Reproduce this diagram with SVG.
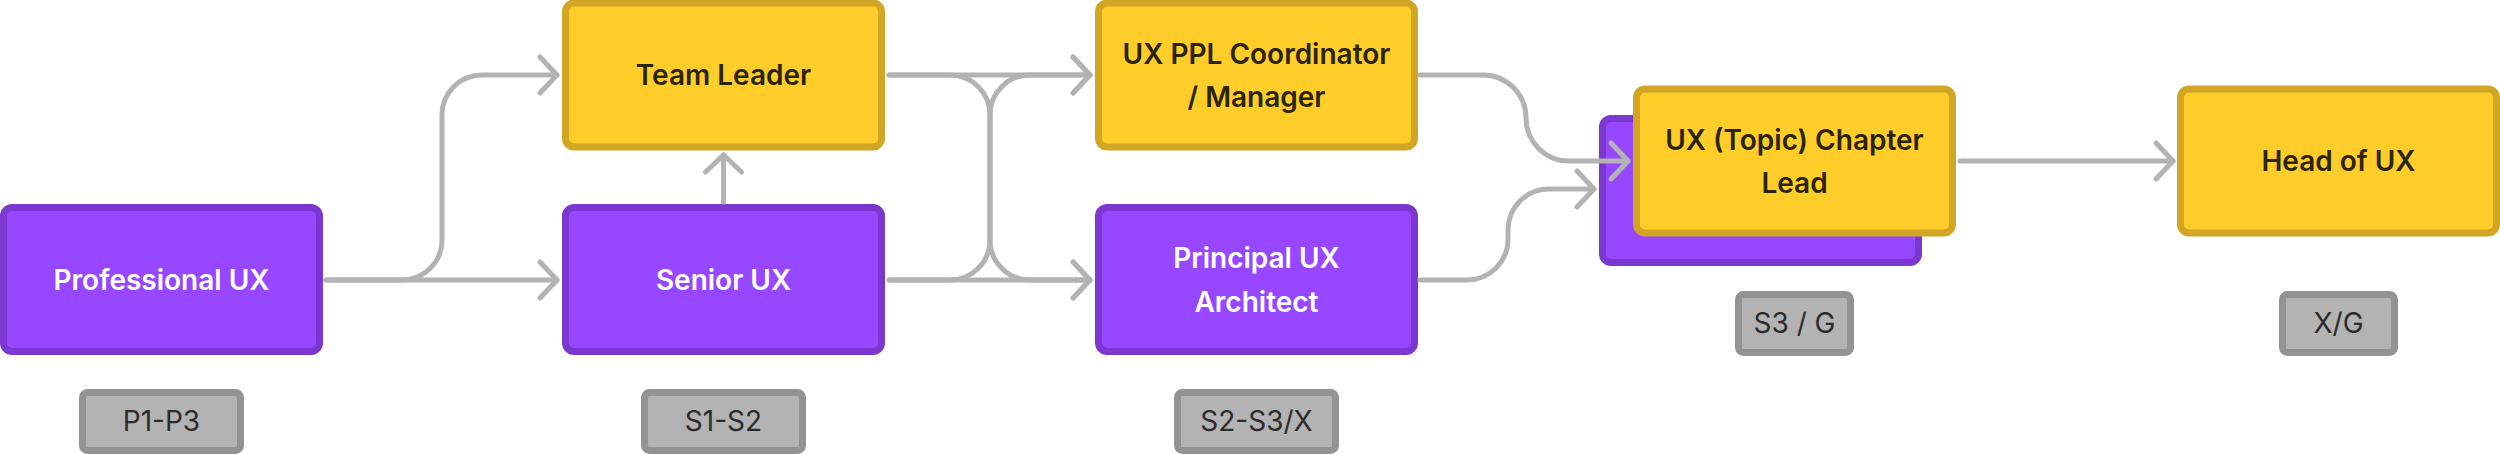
<svg xmlns="http://www.w3.org/2000/svg" width="2500" height="454" viewBox="0 0 2500 454">
  <defs>
    <style>
      .purple { fill: #9747FF; stroke: #7B37D0; stroke-width: 7; }
      .yellow { fill: #FFCD29; stroke: #D2A624; stroke-width: 7; }
      .badge { fill: #B3B3B3; stroke: #939393; stroke-width: 7; }
      .lbl { font-family: Inter, "Liberation Sans", sans-serif; font-size: 28px; font-weight: 600; text-anchor: middle; }
      .light { fill: #FFFFFF; }
      .dark { fill: #2B2403; }
      .btxt { font-family: Inter, "Liberation Sans", sans-serif; font-size: 28px; font-weight: 400; text-anchor: middle; fill: #2C2C2C; }
      .conn { fill: none; stroke: #B3B3B3; stroke-width: 5; stroke-linecap: round; stroke-linejoin: round; marker-end: url(#chev); }
    </style>
    <marker id="chev" markerUnits="userSpaceOnUse" viewBox="-25 -25 50 50" refX="0" refY="0" markerWidth="50" markerHeight="50" orient="auto">
      <path d="M -17 -18 L 0 0 L -17 18" fill="none" stroke="#B3B3B3" stroke-width="5" stroke-linecap="round" stroke-linejoin="round"/>
    </marker>
  </defs>

  <g id="professional-ux">
    <rect class="purple" x="3.5" y="207.5" width="316" height="144" rx="8.5"/>
    <text class="lbl light" x="161.5" y="290">Professional UX</text>
  </g>
  <g id="team-leader">
    <rect class="yellow" x="565.5" y="3" width="316" height="144" rx="8.5"/>
    <text class="lbl dark" x="723.5" y="85">Team Leader</text>
  </g>
  <g id="senior-ux">
    <rect class="purple" x="565.5" y="207.5" width="316" height="144" rx="8.5"/>
    <text class="lbl light" x="723.5" y="290">Senior UX</text>
  </g>
  <g id="ux-ppl-coordinator">
    <rect class="yellow" x="1098.5" y="3" width="316" height="144" rx="8.5"/>
    <text class="lbl dark" x="1256.5" y="64">UX PPL Coordinator</text>
    <text class="lbl dark" x="1256.5" y="107">/ Manager</text>
  </g>
  <g id="principal-ux-architect">
    <rect class="purple" x="1098.5" y="207.5" width="316" height="144" rx="8.5"/>
    <text class="lbl light" x="1256.5" y="268">Principal UX</text>
    <text class="lbl light" x="1256.5" y="312">Architect</text>
  </g>
  <g id="chapter-lead">
    <rect class="purple" x="1602.5" y="118.5" width="316" height="144" rx="8.5"/>
    <rect class="yellow" x="1636.5" y="89" width="316" height="144" rx="8.5"/>
    <text class="lbl dark" x="1794.5" y="150">UX (Topic) Chapter</text>
    <text class="lbl dark" x="1794.5" y="193">Lead</text>
  </g>
  <g id="head-of-ux">
    <rect class="yellow" x="2180.5" y="89" width="316" height="144" rx="8.5"/>
    <text class="lbl dark" x="2338.5" y="171">Head of UX</text>
  </g>

  <g id="badge-p1-p3">
    <rect class="badge" x="82.5" y="392.5" width="158" height="58" rx="5"/>
    <text class="btxt" x="161.5" y="431">P1-P3</text>
  </g>
  <g id="badge-s1-s2">
    <rect class="badge" x="644.5" y="392.5" width="158" height="58" rx="5"/>
    <text class="btxt" x="723.5" y="431">S1-S2</text>
  </g>
  <g id="badge-s2-s3-x">
    <rect class="badge" x="1177.5" y="392.5" width="158" height="58" rx="5"/>
    <text class="btxt" x="1256.5" y="431">S2-S3/X</text>
  </g>
  <g id="badge-s3-g">
    <rect class="badge" x="1738.5" y="294.5" width="112" height="58" rx="5"/>
    <text class="btxt" x="1794.5" y="333">S3 / G</text>
  </g>
  <g id="badge-x-g">
    <rect class="badge" x="2282.5" y="294.5" width="112" height="58" rx="5"/>
    <text class="btxt" x="2338.5" y="333">X/G</text>
  </g>

  <g id="connectors">
    <path class="conn" d="M 326 280 H 557"/>
    <path class="conn" d="M 326 280 H 402 A 40 40 0 0 0 442 240 V 115 A 40 40 0 0 1 482 75 H 557"/>
    <path class="conn" d="M 723.5 202 V 155"/>
    <path class="conn" d="M 889 75 H 1090"/>
    <path class="conn" d="M 889 75 H 950 A 40 40 0 0 1 990 115 V 240 A 40 40 0 0 0 1030 280 H 1090"/>
    <path class="conn" d="M 889 280 H 1090"/>
    <path class="conn" d="M 889 280 H 950 A 40 40 0 0 0 990 240 V 115 A 40 40 0 0 1 1030 75 H 1090"/>
    <path class="conn" d="M 1420 75 H 1483 A 43 43 0 0 1 1526 118 A 43 43 0 0 0 1569 161 H 1628"/>
    <path class="conn" d="M 1420 280 H 1467 A 41 41 0 0 0 1508 239 V 230 A 41 41 0 0 1 1549 189 H 1594"/>
    <path class="conn" d="M 1960 161 H 2173"/>
  </g>
</svg>
